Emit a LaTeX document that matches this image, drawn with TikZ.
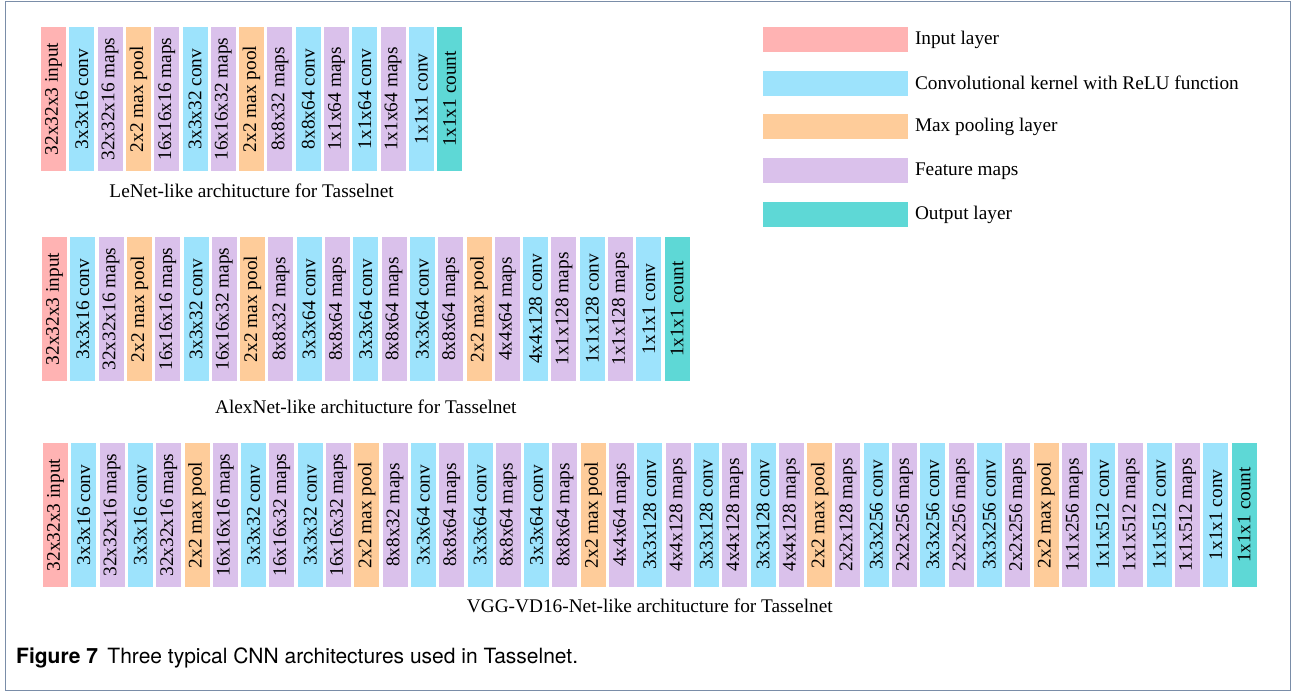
\documentclass[tikz,border=0pt]{standalone}
\usepackage{fontspec}
\setmainfont{Liberation Serif}
\setsansfont{TeX Gyre Heros}
\usepackage{graphicx}
\usepackage{tikz}
\usetikzlibrary{positioning}

\definecolor{incol}{RGB}{255,179,179}
\definecolor{convcol}{RGB}{157,227,252}
\definecolor{poolcol}{RGB}{254,204,154}
\definecolor{mapcol}{RGB}{218,193,235}
\definecolor{outcol}{RGB}{94,216,214}
\definecolor{framecol}{RGB}{122,141,168}

\tikzset{
  blk/.style={minimum width=25pt, minimum height=144pt, inner sep=0pt, outer sep=0pt, font=\fontsize{19.3}{22}\selectfont},
  inblk/.style={blk, fill=incol},
  convblk/.style={blk, fill=convcol},
  poolblk/.style={blk, fill=poolcol},
  mapblk/.style={blk, fill=mapcol},
  outblk/.style={blk, fill=outcol},
  swatch/.style={minimum width=145pt, minimum height=25pt, inner sep=0pt, outer sep=0pt},
  lbl/.style={inner sep=0pt, outer sep=0pt, font=\fontsize{19.3}{22}\selectfont}
}

\begin{document}
\begin{tikzpicture}[x=1pt,y=1pt,node distance=3.3pt]
  \useasboundingbox (0,0) rectangle (1292,692);
  \draw[framecol, line width=1.5pt] (5.5,1.5) rectangle (1290.5,690.5);

  % LeNet
  \foreach \s/\t [count=\i] in {inblk/32x32x3 input, convblk/3x3x16 conv, mapblk/32x32x16 maps,
      poolblk/2x2 max pool, mapblk/16x16x16 maps, convblk/3x3x32 conv, mapblk/16x16x32 maps,
      poolblk/2x2 max pool, mapblk/8x8x32 maps, convblk/8x8x64 conv, mapblk/1x1x64 maps,
      convblk/1x1x64 conv, mapblk/1x1x64 maps, convblk/1x1x1 conv, outblk/1x1x1 count} {
    \ifnum\i=1
      \node[\s, anchor=west] (le\i) at (41,593) {\rotatebox{90}{\t}};
    \else
      \pgfmathtruncatemacro\j{\i-1}
      \node[\s, right=of le\j] (le\i) {\rotatebox{90}{\t}};
    \fi
  }
  \node[lbl, below=12.5pt of le8] (lecap) {LeNet-like architucture for Tasselnet};

  % AlexNet
  \foreach \s/\t [count=\i] in {inblk/32x32x3 input, convblk/3x3x16 conv, mapblk/32x32x16 maps,
      poolblk/2x2 max pool, mapblk/16x16x16 maps, convblk/3x3x32 conv, mapblk/16x16x32 maps,
      poolblk/2x2 max pool, mapblk/8x8x32 maps, convblk/3x3x64 conv, mapblk/8x8x64 maps,
      convblk/3x3x64 conv, mapblk/8x8x64 maps, convblk/3x3x64 conv, mapblk/8x8x64 maps,
      poolblk/2x2 max pool, mapblk/4x4x64 maps, convblk/4x4x128 conv, mapblk/1x1x128 maps,
      convblk/1x1x128 conv, mapblk/1x1x128 maps, convblk/1x1x1 conv, outblk/1x1x1 count} {
    \ifnum\i=1
      \node[\s, anchor=west] (al\i) at (42,383) {\rotatebox{90}{\t}};
    \else
      \pgfmathtruncatemacro\j{\i-1}
      \node[\s, right=of al\j] (al\i) {\rotatebox{90}{\t}};
    \fi
  }
  \node[lbl, below=19pt of al12] (alcap) {AlexNet-like architucture for Tasselnet};

  % VGG-VD16
  \foreach \s/\t [count=\i] in {inblk/32x32x3 input, convblk/3x3x16 conv, mapblk/32x32x16 maps,
      convblk/3x3x16 conv, mapblk/32x32x16 maps, poolblk/2x2 max pool, mapblk/16x16x16 maps,
      convblk/3x3x32 conv, mapblk/16x16x32 maps, convblk/3x3x32 conv, mapblk/16x16x32 maps,
      poolblk/2x2 max pool, mapblk/8x8x32 maps, convblk/3x3x64 conv, mapblk/8x8x64 maps,
      convblk/3x3x64 conv, mapblk/8x8x64 maps, convblk/3x3x64 conv, mapblk/8x8x64 maps,
      poolblk/2x2 max pool, mapblk/4x4x64 maps, convblk/3x3x128 conv, mapblk/4x4x128 maps,
      convblk/3x3x128 conv, mapblk/4x4x128 maps, convblk/3x3x128 conv, mapblk/4x4x128 maps,
      poolblk/2x2 max pool, mapblk/2x2x128 maps, convblk/3x3x256 conv, mapblk/2x2x256 maps,
      convblk/3x3x256 conv, mapblk/2x2x256 maps, convblk/3x3x256 conv, mapblk/2x2x256 maps,
      poolblk/2x2 max pool, mapblk/1x1x256 maps, convblk/1x1x512 conv, mapblk/1x1x512 maps,
      convblk/1x1x512 conv, mapblk/1x1x512 maps, convblk/1x1x1 conv, outblk/1x1x1 count} {
    \ifnum\i=1
      \node[\s, anchor=west] (vg\i) at (43,177) {\rotatebox{90}{\t}};
    \else
      \pgfmathtruncatemacro\j{\i-1}
      \node[\s, right=of vg\j] (vg\i) {\rotatebox{90}{\t}};
    \fi
  }
  \node[lbl, below=11.5pt of vg22] (vgcap) {VGG-VD16-Net-like architucture for Tasselnet};

  % legend
  \foreach \c/\t [count=\i] in {incol/Input layer, convcol/Convolutional kernel with ReLU function,
      poolcol/Max pooling layer, mapcol/Feature maps, outcol/Output layer} {
    \node[swatch, fill=\c] (sw\i) at (835.5,{696.25-43.75*\i}) {};
    \node[lbl, right=7pt of sw\i] (swt\i) {\t};
  }

  \node[anchor=base west, inner sep=0pt, font=\sffamily\fontsize{21}{25}\selectfont] (figcap) at (16,28)
    {\textbf{Figure 7}\hspace{0.45em}Three typical CNN architectures used in Tasselnet.};
\end{tikzpicture}
\end{document}
